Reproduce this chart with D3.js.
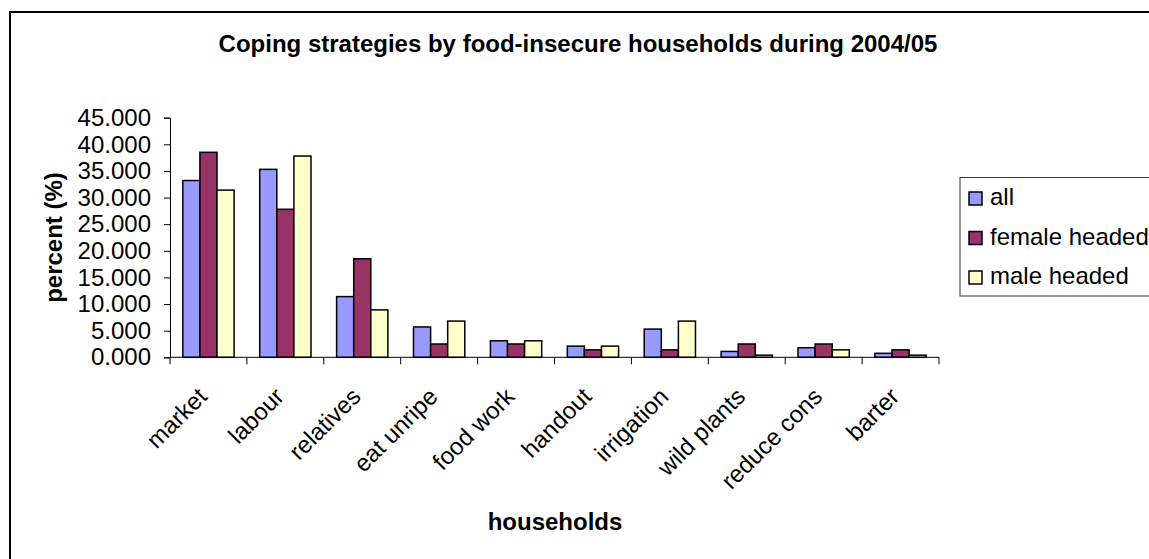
<!DOCTYPE html>
<html>
<head>
<meta charset="utf-8">
<script src="https://cdn.jsdelivr.net/npm/d3@7"></script>
<style>
  html, body { margin: 0; padding: 0; background: #fff; }
  svg { display: block; font-family: "Liberation Sans", Arial, sans-serif; }
</style>
</head>
<body>
<svg id="chart" width="1149" height="559"></svg>
<script>
// Coping strategies, percent of food-insecure households (2004/05)
const categories = ["market", "labour", "relatives", "eat unripe", "food work",
                    "handout", "irrigation", "wild plants", "reduce cons", "barter"];
const seriesNames = ["all", "female headed", "male headed"];
const allValues    = [33.2, 35.3, 11.4, 5.7, 3.1, 2.1, 5.3, 1.1, 1.8, 0.75];
const femaleValues = [38.5, 27.8, 18.5, 2.5, 2.5, 1.4, 1.4, 2.5, 2.5, 1.4];
const maleValues   = [31.4, 37.8, 8.9, 6.8, 3.1, 2.1, 6.8, 0.4, 1.4, 0.4];
const yTicks = [0, 5, 10, 15, 20, 25, 30, 35, 40, 45];
const seriesColors = ["#9999FF", "#993366", "#FFFFCC"];

const seriesValues = [allValues, femaleValues, maleValues];

const svg = d3.select("#chart");

// outer chart frame (continues past the right and bottom edges)
svg.append("rect")
  .attr("x", 10).attr("y", 12)
  .attr("width", 1300).attr("height", 700)
  .attr("fill", "#fff").attr("stroke", "#000").attr("stroke-width", 2);

const plot = { left: 170, right: 939, top: 117.7, bottom: 357.3 };

const x0 = d3.scaleBand().domain(categories)
  .range([plot.left, plot.right]).paddingInner(0).paddingOuter(0);
const x1 = d3.scaleBand().domain(seriesNames)
  .range([0, x0.bandwidth()]).paddingInner(0).paddingOuter(0.75);
const y = d3.scaleLinear().domain([0, 45]).range([plot.bottom, plot.top]);

// title
svg.append("text")
  .attr("x", 578).attr("y", 52)
  .attr("text-anchor", "middle")
  .attr("font-size", 24).attr("font-weight", "bold")
  .text("Coping strategies by food-insecure households during 2004/05");

// bars
const groups = svg.append("g").selectAll("g")
  .data(categories)
  .join("g")
  .attr("transform", d => `translate(${x0(d)},0)`);

groups.selectAll("rect")
  .data((c, i) => seriesNames.map((s, k) => ({ s, k, v: seriesValues[k][i] })))
  .join("rect")
  .attr("x", d => x1(d.s))
  .attr("width", x1.bandwidth())
  .attr("y", d => y(d.v))
  .attr("height", d => y(0) - y(d.v))
  .attr("fill", d => seriesColors[d.k])
  .attr("stroke", "#000")
  .attr("stroke-width", 1.5);

// y axis
const yAxis = d3.axisLeft(y).tickValues(yTicks)
  .tickFormat(d3.format(".3f")).tickSize(6).tickPadding(13);
const yg = svg.append("g")
  .attr("transform", `translate(${plot.left},0)`)
  .call(yAxis);
yg.select(".domain").attr("stroke", "#000").attr("stroke-width", 1);
yg.selectAll(".tick line").attr("stroke", "#000");
yg.selectAll(".tick text")
  .attr("font-size", 24).attr("fill", "#000")
  .attr("font-family", "Liberation Sans, Arial, sans-serif");

// x axis: ticks on category boundaries
const boundaries = categories.map(c => x0(c)).concat([plot.right]);
const xg = svg.append("g");
xg.append("line")
  .attr("x1", plot.left).attr("x2", plot.right)
  .attr("y1", y(0)).attr("y2", y(0))
  .attr("stroke", "#000").attr("stroke-width", 1);
xg.selectAll("line.tk")
  .data(boundaries)
  .join("line")
  .attr("class", "tk")
  .attr("x1", d => d).attr("x2", d => d)
  .attr("y1", y(0)).attr("y2", y(0) + 7)
  .attr("stroke", "#000");

xg.selectAll("text")
  .data(categories)
  .join("text")
  .attr("transform", d => `translate(${x0(d) + x0.bandwidth() / 2},398) rotate(-45)`)
  .attr("text-anchor", "end")
  .attr("font-size", 24)
  .text(d => d);

// axis titles
svg.append("text")
  .attr("x", 555).attr("y", 530)
  .attr("text-anchor", "middle")
  .attr("font-size", 24).attr("font-weight", "bold")
  .text("households");

svg.append("text")
  .attr("transform", `translate(62,${(plot.top + plot.bottom) / 2}) rotate(-90)`)
  .attr("text-anchor", "middle")
  .attr("font-size", 24).attr("font-weight", "bold")
  .text("percent (%)");

// legend
const legend = svg.append("g");
legend.append("rect")
  .attr("x", 960).attr("y", 177.5)
  .attr("width", 300).attr("height", 118.5)
  .attr("fill", "#fff").attr("stroke", "#333").attr("stroke-width", 1);

const items = legend.selectAll("g.item")
  .data(seriesNames)
  .join("g")
  .attr("class", "item")
  .attr("transform", (d, i) => `translate(0,${i * 39.5})`);
items.append("rect")
  .attr("x", 969).attr("y", 192)
  .attr("width", 13).attr("height", 13)
  .attr("fill", (d, i) => seriesColors[i])
  .attr("stroke", "#000").attr("stroke-width", 1.5);
items.append("text")
  .attr("x", 990).attr("y", 205)
  .attr("font-size", 24)
  .text(d => d);
</script>
</body>
</html>
